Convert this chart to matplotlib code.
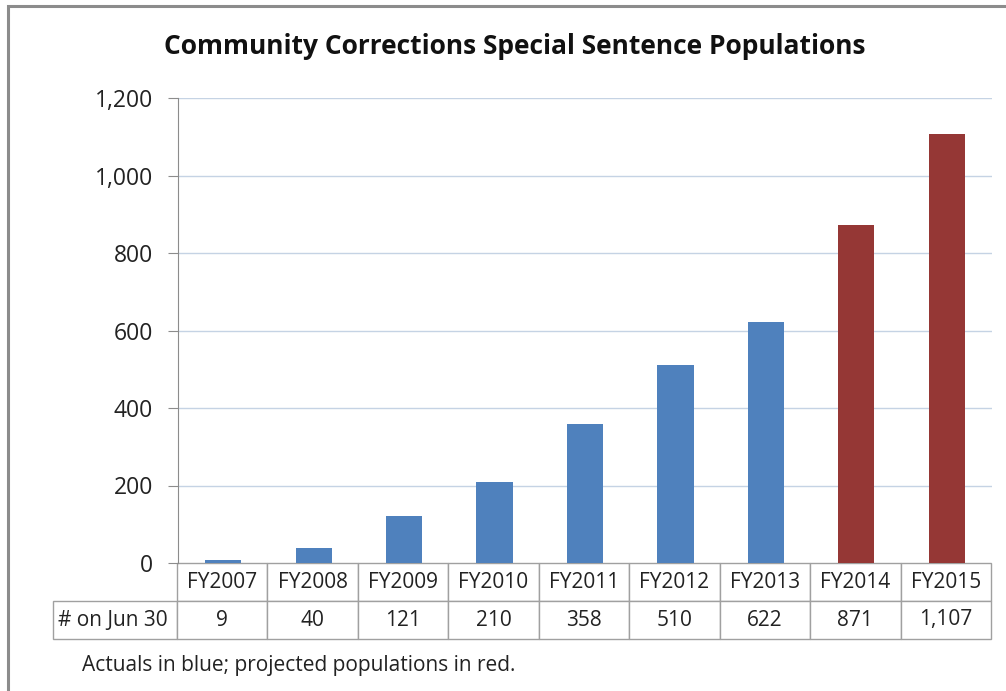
import matplotlib
matplotlib.use('Agg')
import matplotlib.pyplot as plt
from matplotlib.patches import Rectangle

plt.rcParams['font.family'] = ['Open Sans', 'DejaVu Sans']

# data
years = ['FY2007', 'FY2008', 'FY2009', 'FY2010', 'FY2011',
         'FY2012', 'FY2013', 'FY2014', 'FY2015']
counts = [9, 40, 121, 210, 358, 510, 622, 871, 1107]
status = ['actual'] * 7 + ['projected'] * 2
yticks = [0, 200, 400, 600, 800, 1000, 1200]

colorMap = {'actual': '#4F81BD', 'projected': '#953735'}
W, H = 1006, 691

fig = plt.figure(figsize=(W / 100, H / 100), dpi=100)

# outer chart frame (cut off at right and bottom like the screenshot)
fig.patches.append(Rectangle((8 / W, -0.05), 1.2, 1 - 6 / H + 0.05,
                             transform=fig.transFigure, fill=False,
                             edgecolor='#8C8C8C', linewidth=2.2))

left, right, top, bottom = 178, 992, 98, 563
ax = fig.add_axes([left / W, 1 - bottom / H, (right - left) / W, (bottom - top) / H])

ax.bar(range(len(years)), counts, width=0.4,
       color=[colorMap[s] for s in status], zorder=3)
ax.set_xlim(-0.5, len(years) - 0.5)
ax.set_ylim(0, 1200)
ax.set_yticks(yticks)
ax.set_yticklabels(['{:,}'.format(v) for v in yticks], fontsize=16.5, color='#222222')
ax.set_xticks([])
for v in yticks[1:]:
    ax.axhline(v, color='#C5D3E4', linewidth=1, zorder=1)

for s in ['top', 'right', 'bottom']:
    ax.spines[s].set_visible(False)
ax.spines['left'].set_color('#8C8C8C')
ax.tick_params(axis='y', length=7, color='#8C8C8C', pad=11)

# data table under the axis
cellText = [[''] + years, ['# on Jun 30'] + ['{:,}'.format(c) for c in counts]]
labelW = 124.0
colW = (right - left) / len(years)
totalW = labelW + colW * len(years)
colWidths = [labelW / totalW] + [colW / totalW] * len(years)
tblTop, tblBot = 563, 639
tbl = ax.table(cellText=cellText, colWidths=colWidths, cellLoc='center',
               bbox=[(53 - left) / (right - left), -(tblBot - tblTop) / (bottom - top),
                     totalW / (right - left), (tblBot - tblTop) / (bottom - top)])
tbl.auto_set_font_size(False)
tbl.set_fontsize(15)
for (r, c), cell in tbl.get_celld().items():
    cell.set_edgecolor('#A0A0A0')
    cell.set_linewidth(1)
    cell.get_text().set_color('#222222')
    if r == 0 and c == 0:
        cell.visible_edges = ''
tbl.get_celld()[(1, 0)].get_text().set_ha('left')
tbl.get_celld()[(1, 0)].PAD = 0.04

fig.text(515 / W, 1 - 47 / H, 'Community Corrections Special Sentence Populations',
         ha='center', va='center', fontsize=19, fontweight='bold', color='#111111')
fig.text(82 / W, 1 - 665 / H, 'Actuals in blue; projected populations in red.',
         ha='left', va='center', fontsize=15, color='#222222')

fig.savefig('out.png', dpi=100)
